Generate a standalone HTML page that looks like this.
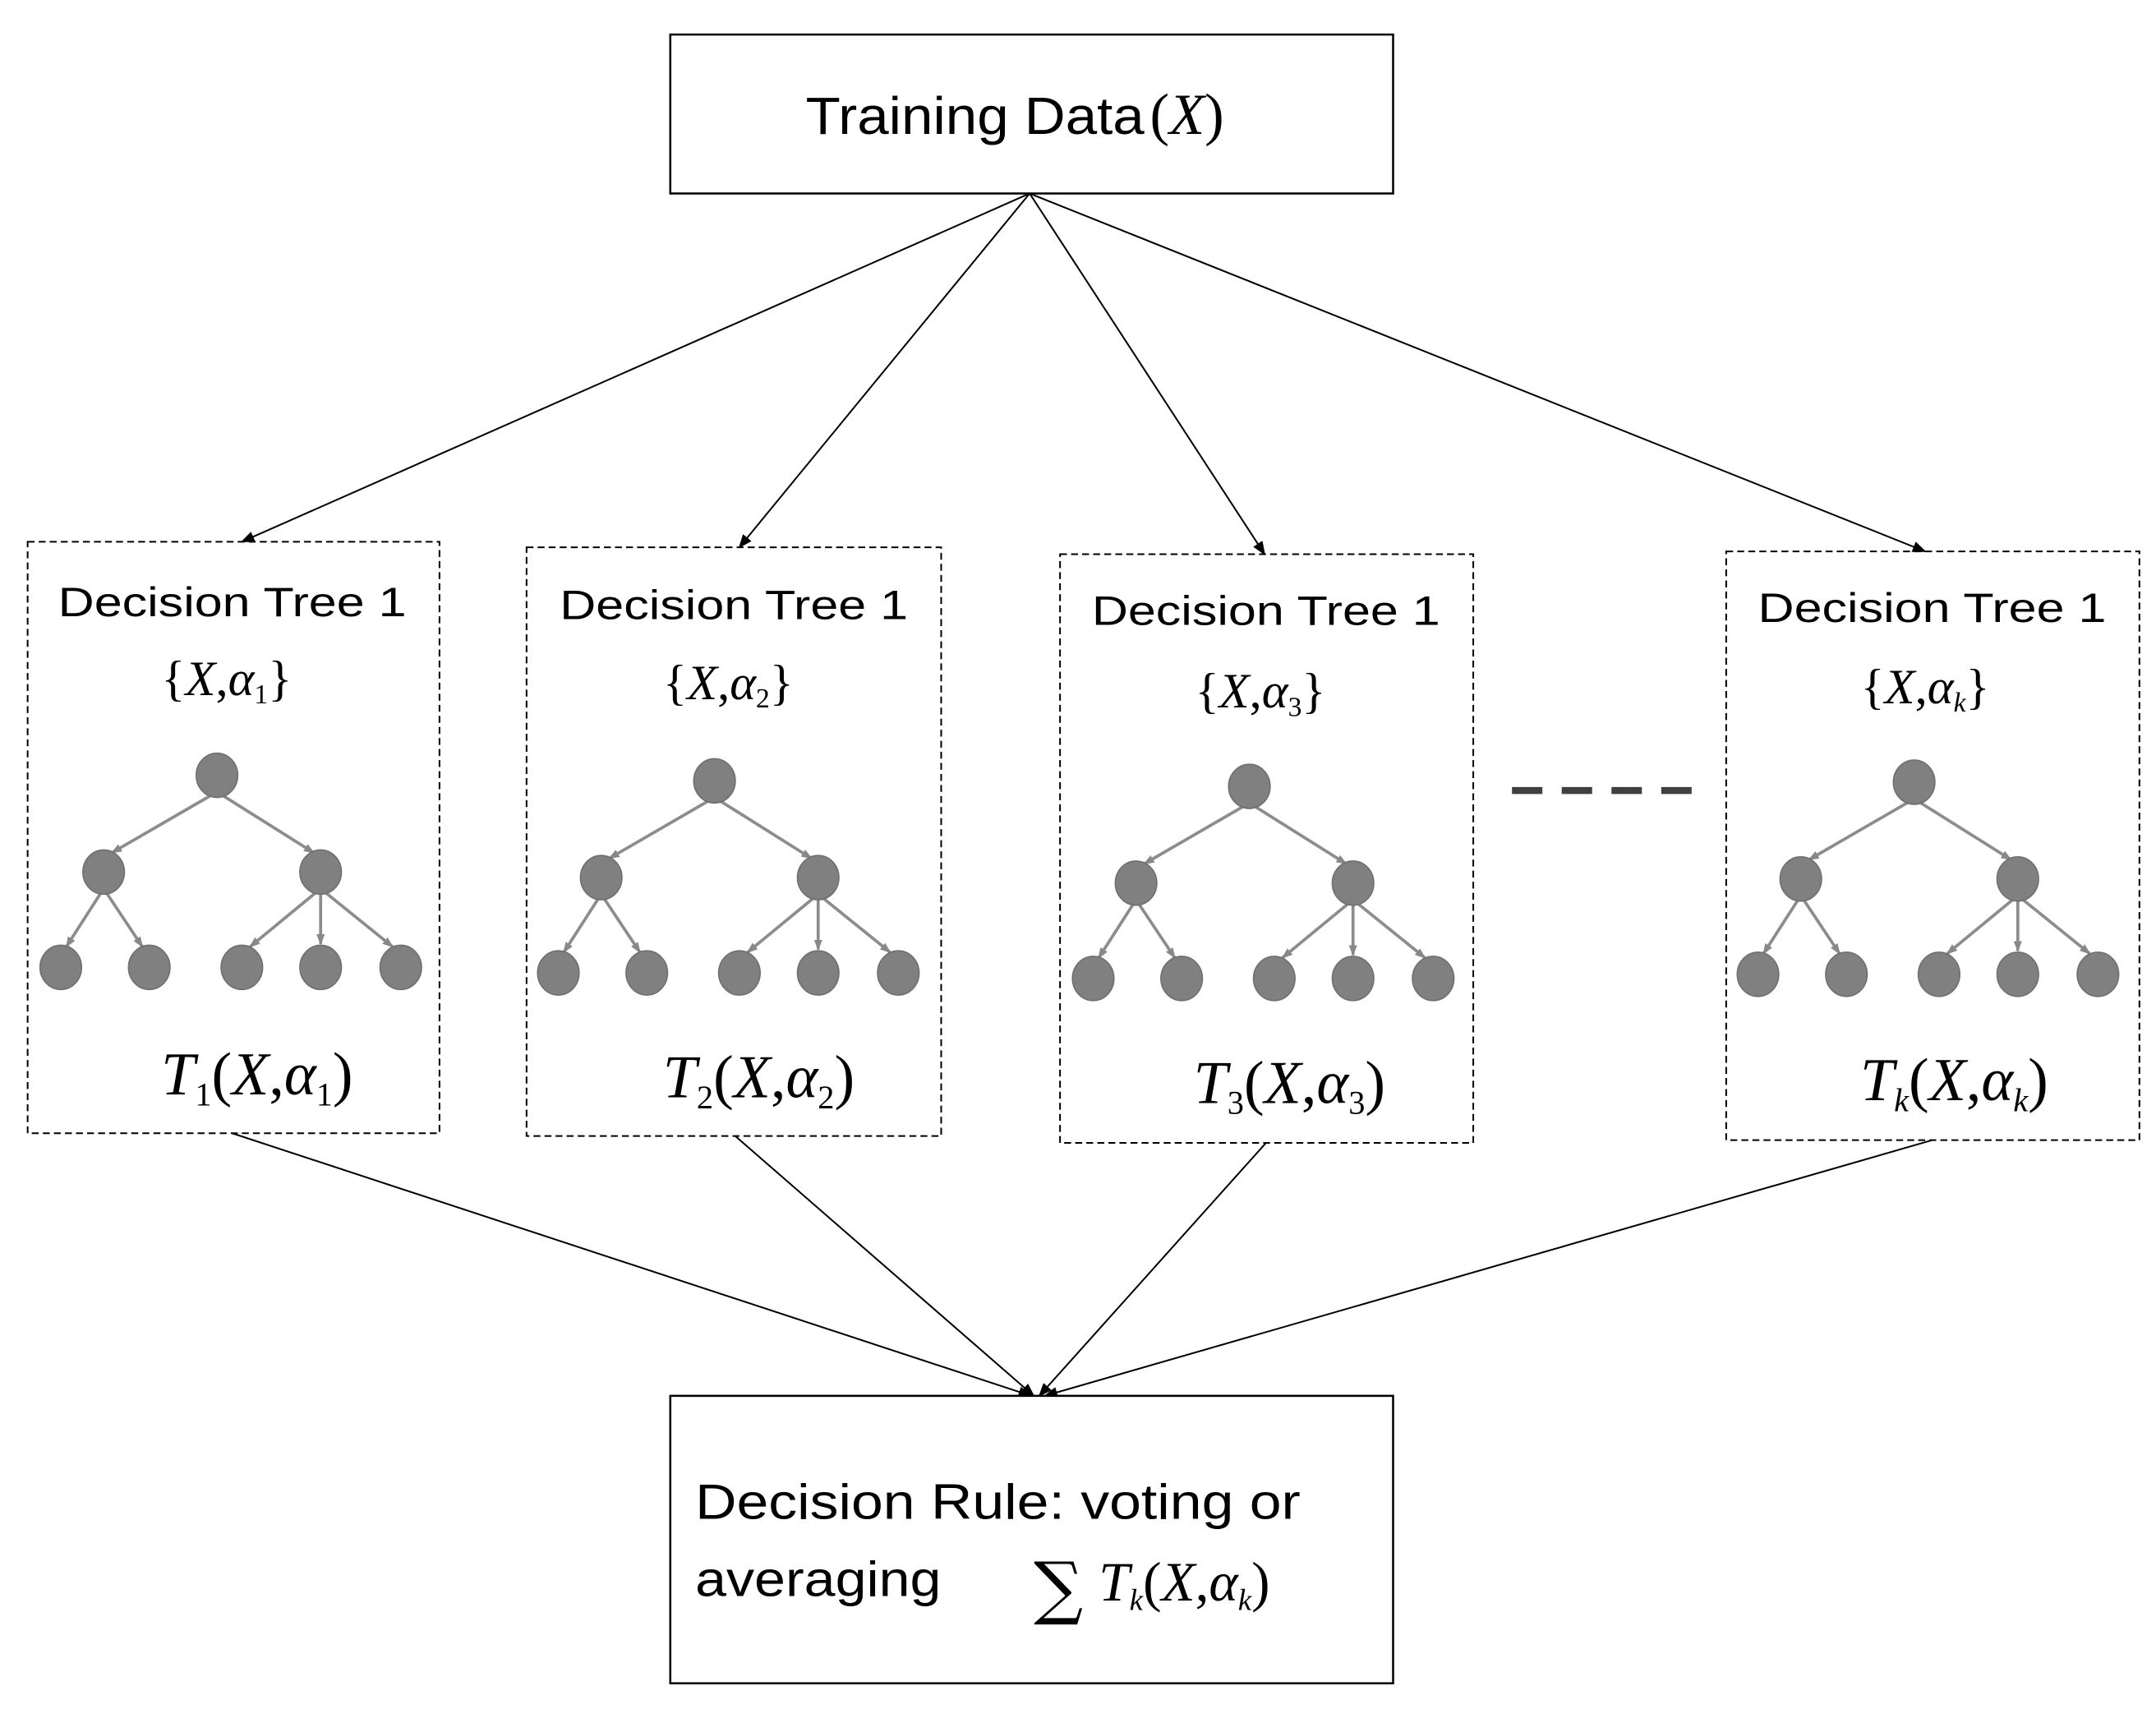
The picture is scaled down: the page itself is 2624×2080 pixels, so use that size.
<!DOCTYPE html>
<html><head><meta charset="utf-8"><style>html,body{margin:0;padding:0;background:#fff}svg{display:block}</style></head>
<body>
<svg width="2624" height="2080" viewBox="0 0 1560 1236.6" preserveAspectRatio="none" xmlns="http://www.w3.org/2000/svg">
<defs>
<marker id="a" markerWidth="10" markerHeight="10" refX="9" refY="5" orient="auto" markerUnits="userSpaceOnUse"><path d="M0,1 L10,5 L0,9 z" fill="#000"/></marker>
<marker id="g" markerWidth="8" markerHeight="8" refX="7" refY="4" orient="auto" markerUnits="userSpaceOnUse"><path d="M0,1 L8,4 L0,7 z" fill="#888"/></marker>
<g id="tree">
<g stroke="#8c8c8c" stroke-width="2.2" fill="none" marker-end="url(#g)">
<line x1="0" y1="12" x2="-76" y2="56"/>
<line x1="0" y1="12" x2="70" y2="56"/>
<line x1="-82" y1="82" x2="-109" y2="124"/>
<line x1="-82" y1="82" x2="-54" y2="124"/>
<line x1="75" y1="82" x2="24" y2="124"/>
<line x1="75" y1="82" x2="75" y2="122"/>
<line x1="75" y1="82" x2="127" y2="124"/>
</g>
<g fill="#808080" stroke="#707070" stroke-width="1">
<ellipse cx="0" cy="0" rx="15" ry="16"/>
<ellipse cx="-82" cy="70" rx="15" ry="16"/>
<ellipse cx="75" cy="70" rx="15" ry="16"/>
<ellipse cx="-113" cy="139" rx="15" ry="16"/>
<ellipse cx="-49" cy="139" rx="15" ry="16"/>
<ellipse cx="18" cy="139" rx="15" ry="16"/>
<ellipse cx="75" cy="139" rx="15" ry="16"/>
<ellipse cx="133" cy="139" rx="15" ry="16"/>
</g>
</g>
</defs>

<rect x="485" y="25" width="523" height="115" fill="#fff" stroke="#000" stroke-width="1.5"/>
<text x="583" y="97" font-family="Liberation Sans, sans-serif" font-size="38" textLength="245" lengthAdjust="spacingAndGlyphs">Training Data</text>
<text x="832" y="97" font-family="Liberation Serif, serif" font-size="42">(<tspan font-style="italic">X</tspan>)</text>

<g stroke="#000" stroke-width="1.2" marker-end="url(#a)">
<line x1="745" y1="140" x2="175" y2="392"/>
<line x1="745" y1="140" x2="535" y2="396"/>
<line x1="745" y1="140" x2="915" y2="401"/>
<line x1="745" y1="140" x2="1393" y2="399"/>
<line x1="168" y1="820" x2="746" y2="1010"/>
<line x1="532" y1="822" x2="748" y2="1010"/>
<line x1="916" y1="827" x2="752" y2="1010"/>
<line x1="1398" y1="825" x2="756" y2="1010"/>
</g>

<g fill="none" stroke="#000" stroke-width="1.2" stroke-dasharray="5,3">
<rect x="20" y="392" width="298" height="428"/>
<rect x="381" y="396" width="300" height="426"/>
<rect x="767" y="401" width="299" height="426"/>
<rect x="1249" y="399" width="299" height="426"/>
</g>

<g font-family="Liberation Sans, sans-serif" font-size="30" text-anchor="middle">
<text x="168" y="446" textLength="252" lengthAdjust="spacingAndGlyphs">Decision Tree 1</text>
<text x="531" y="448" textLength="252" lengthAdjust="spacingAndGlyphs">Decision Tree 1</text>
<text x="916" y="452" textLength="252" lengthAdjust="spacingAndGlyphs">Decision Tree 1</text>
<text x="1398" y="450" textLength="252" lengthAdjust="spacingAndGlyphs">Decision Tree 1</text>
</g>

<g font-family="Liberation Serif, serif" font-size="36" text-anchor="middle">
<text x="164" y="503">{<tspan font-style="italic">X</tspan>,<tspan font-style="italic">α</tspan><tspan font-size="20" dy="6">1</tspan><tspan dy="-6">}</tspan></text>
<text x="527" y="506">{<tspan font-style="italic">X</tspan>,<tspan font-style="italic">α</tspan><tspan font-size="20" dy="6">2</tspan><tspan dy="-6">}</tspan></text>
<text x="912" y="512">{<tspan font-style="italic">X</tspan>,<tspan font-style="italic">α</tspan><tspan font-size="20" dy="6">3</tspan><tspan dy="-6">}</tspan></text>
<text x="1393" y="509">{<tspan font-style="italic">X</tspan>,<tspan font-style="italic">α</tspan><tspan font-size="20" font-style="italic" dy="6">k</tspan><tspan dy="-6">}</tspan></text>
</g>

<use href="#tree" x="157" y="561"/>
<use href="#tree" x="517" y="565"/>
<use href="#tree" x="904" y="569"/>
<use href="#tree" x="1385" y="566"/>

<line x1="1094" y1="572" x2="1224" y2="572" stroke="#404040" stroke-width="5" stroke-dasharray="22,14"/>

<g font-family="Liberation Serif, serif" font-size="44" text-anchor="middle">
<text x="186" y="792"><tspan font-style="italic">T</tspan><tspan font-size="24" dy="8">1</tspan><tspan dy="-8">(</tspan><tspan font-style="italic">X</tspan>,<tspan font-style="italic">α</tspan><tspan font-size="24" dy="8">1</tspan><tspan dy="-8">)</tspan></text>
<text x="549" y="794"><tspan font-style="italic">T</tspan><tspan font-size="24" dy="8">2</tspan><tspan dy="-8">(</tspan><tspan font-style="italic">X</tspan>,<tspan font-style="italic">α</tspan><tspan font-size="24" dy="8">2</tspan><tspan dy="-8">)</tspan></text>
<text x="933" y="798"><tspan font-style="italic">T</tspan><tspan font-size="24" dy="8">3</tspan><tspan dy="-8">(</tspan><tspan font-style="italic">X</tspan>,<tspan font-style="italic">α</tspan><tspan font-size="24" dy="8">3</tspan><tspan dy="-8">)</tspan></text>
<text x="1414" y="796"><tspan font-style="italic">T</tspan><tspan font-size="24" font-style="italic" dy="8">k</tspan><tspan dy="-8">(</tspan><tspan font-style="italic">X</tspan>,<tspan font-style="italic">α</tspan><tspan font-size="24" font-style="italic" dy="8">k</tspan><tspan dy="-8">)</tspan></text>
</g>

<rect x="485" y="1010" width="523" height="208" fill="#fff" stroke="#000" stroke-width="1.5"/>
<g font-family="Liberation Sans, sans-serif" font-size="36">
<text x="503" y="1099" textLength="438" lengthAdjust="spacingAndGlyphs">Decision Rule: voting or</text>
<text x="503" y="1155" textLength="178" lengthAdjust="spacingAndGlyphs">averaging</text>
</g>
<text x="748" y="1166" font-family="DejaVu Serif, serif" font-size="50">∑</text>
<text x="795" y="1158" font-family="Liberation Serif, serif" font-size="40"><tspan font-style="italic">T</tspan><tspan font-size="22" font-style="italic" dy="7">k</tspan><tspan dy="-7">(</tspan><tspan font-style="italic">X</tspan>,<tspan font-style="italic">α</tspan><tspan font-size="22" font-style="italic" dy="7">k</tspan><tspan dy="-7">)</tspan></text>
</svg>
</body></html>
